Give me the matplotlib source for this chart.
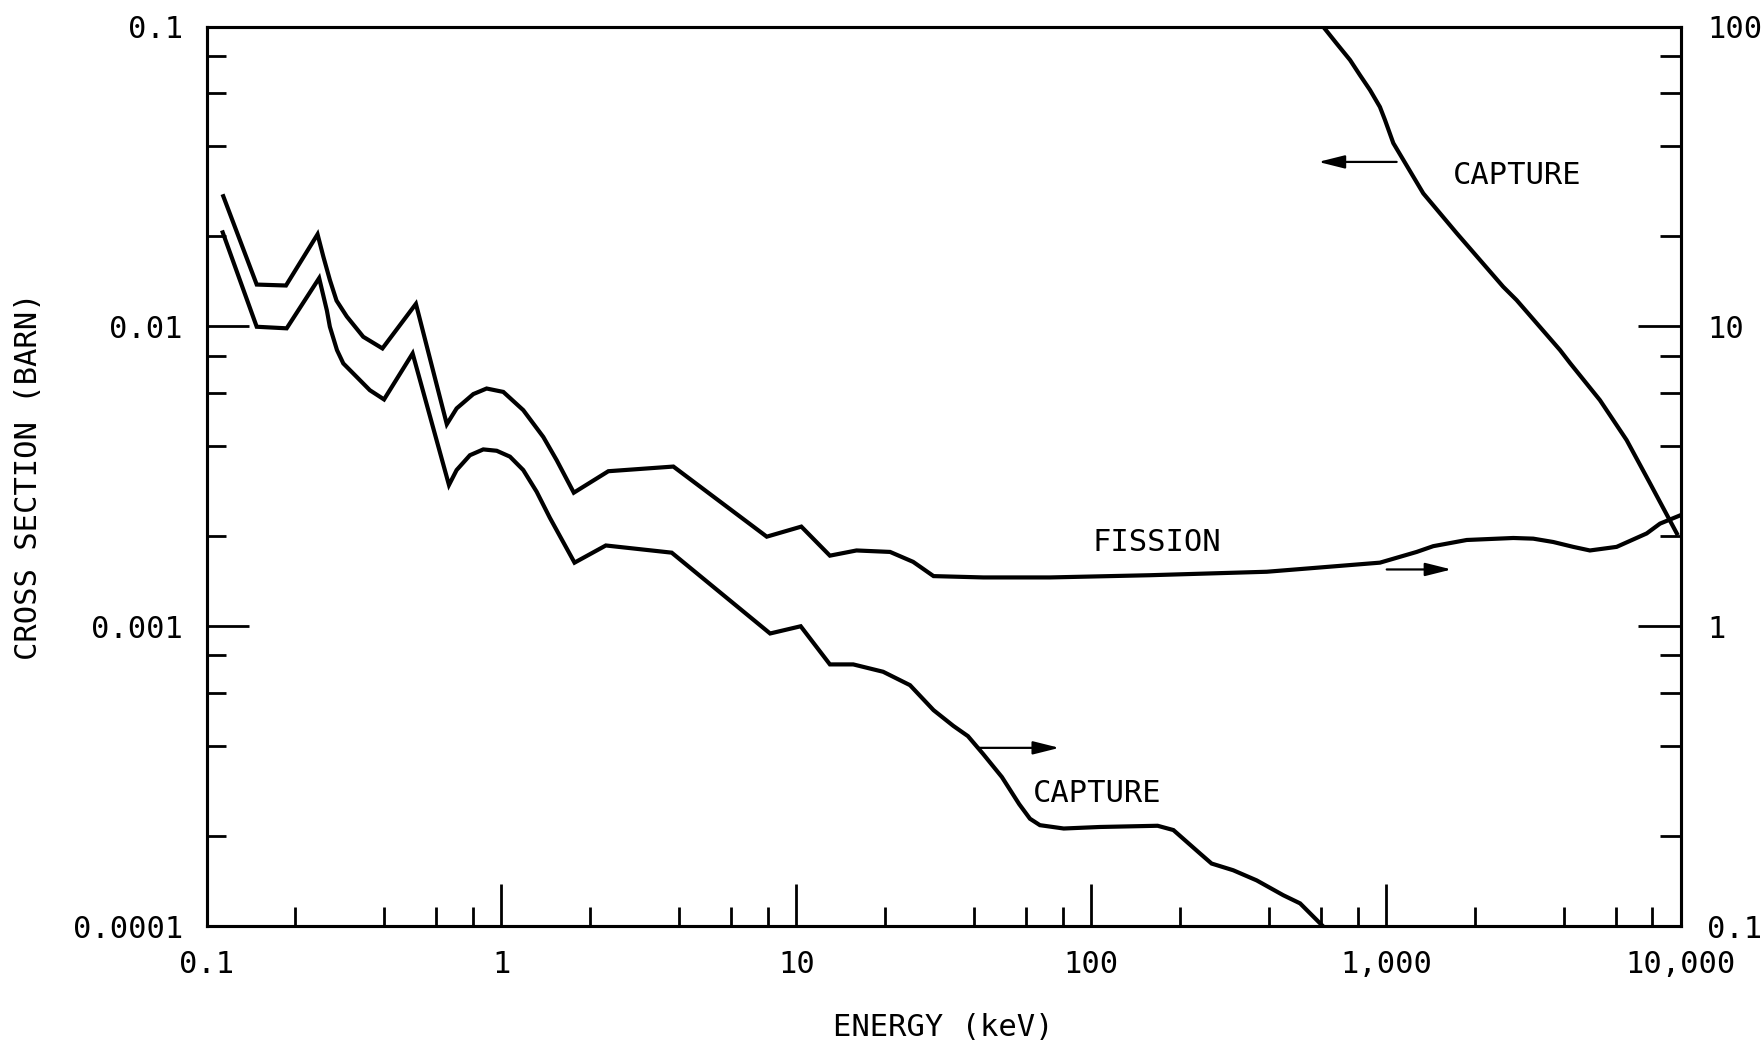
import matplotlib
matplotlib.use('Agg')
import matplotlib.pyplot as plt
from matplotlib.ticker import FixedLocator, FixedFormatter, NullFormatter

# ---- data ----
# Fission cross section (right axis, barn) vs energy (keV)
fission_energy = [0.114, 0.148, 0.186, 0.238, 0.249, 0.262, 0.276, 0.299, 0.340,
                  0.395, 0.513, 0.653, 0.705, 0.803, 0.891, 1.015, 1.186, 1.387,
                  1.54, 1.76, 2.305, 3.83, 7.94, 10.4, 13.0, 16.0, 20.8, 24.9,
                  29.2, 43.1, 72.5, 158, 394, 953, 1270, 1445, 1877, 2700,
                  3155, 3690, 4312, 4910, 6050, 7650, 8490, 10000]
fission_xs = [27.2, 13.8, 13.7, 20.3, 17.1, 14.3, 12.2, 10.8, 9.24,
              8.45, 11.9, 4.72, 5.33, 5.95, 6.21, 6.05, 5.26, 4.28,
              3.58, 2.79, 3.29, 3.41, 1.99, 2.15, 1.72, 1.79, 1.77, 1.64,
              1.47, 1.455, 1.455, 1.48, 1.52, 1.63, 1.77, 1.85, 1.94, 1.97,
              1.96, 1.91, 1.84, 1.79, 1.84, 2.04, 2.20, 2.35]

# Capture cross section, low-energy branch (right axis, barn)
capture_low_energy = [0.1135, 0.148, 0.187, 0.241, 0.256, 0.262, 0.277, 0.291,
                      0.323, 0.358, 0.400, 0.500, 0.664, 0.705, 0.782, 0.868,
                      0.964, 1.069, 1.186, 1.317, 1.46, 1.77, 2.26, 3.78, 8.15,
                      10.35, 13.0, 15.6, 19.7, 24.3, 29.2, 34.1, 38.2, 43.0,
                      49.8, 57, 62, 67, 80.7, 107, 168, 190, 234, 256, 303,
                      364, 448, 511, 610]
capture_low_xs = [20.6, 9.98, 9.86, 14.5, 11.3, 9.98, 8.34, 7.53,
                  6.79, 6.13, 5.71, 8.13, 2.96, 3.32, 3.72, 3.89,
                  3.85, 3.68, 3.32, 2.81, 2.30, 1.63, 1.86, 1.76, 0.946,
                  1.0, 0.746, 0.746, 0.705, 0.636, 0.525, 0.465, 0.430, 0.375,
                  0.314, 0.255, 0.228, 0.217, 0.2115, 0.214, 0.216, 0.209,
                  0.1745, 0.1616, 0.1535, 0.142, 0.1267, 0.119, 0.100]

# Capture cross section, high-energy branch (left axis, barn)
capture_high_energy = [612, 679, 755, 815, 882, 953, 991, 1058, 1337, 1734,
                       2495, 2770, 3890, 4210, 5310, 6540, 7850, 9680]
capture_high_xs = [0.100, 0.088, 0.0774, 0.069, 0.0615, 0.054, 0.0489, 0.0409,
                   0.0278, 0.0205, 0.01357, 0.01225, 0.00834, 0.00754, 0.00568,
                   0.00418, 0.0030, 0.00204]

x_ticks = [0.1, 1, 10, 100, 1000, 10000]
x_tick_labels = ['0.1', '1', '10', '100', '1,000', '10,000']
left_ticks = [0.0001, 0.001, 0.01, 0.1]
left_tick_labels = ['0.0001', '0.001', '0.01', '0.1']
right_ticks = [0.1, 1, 10, 100]
right_tick_labels = ['0.1', '1', '10', '100']
minor_factors = [2, 4, 6, 8]

# ---- figure ----
plt.rcParams['font.family'] = ['DejaVu Sans Mono', 'DejaVu Sans']
fig = plt.figure(figsize=(17.65, 10.44), dpi=100)
ax = fig.add_axes([0.1170, 0.1130, 0.8354, 0.8614])
ax2 = ax.twinx()

ax.set_xscale('log')
ax.set_yscale('log')
ax2.set_yscale('log')
ax.set_xlim(0.1, 10000)
ax.set_ylim(0.0001, 0.1)
ax2.set_ylim(0.1, 100)

def minors(ticks):
    return [t * f for t in ticks[:-1] for f in minor_factors]

ax.xaxis.set_major_locator(FixedLocator(x_ticks))
ax.xaxis.set_major_formatter(FixedFormatter(x_tick_labels))
ax.xaxis.set_minor_locator(FixedLocator(minors(x_ticks)))
ax.xaxis.set_minor_formatter(NullFormatter())
ax.yaxis.set_major_locator(FixedLocator(left_ticks))
ax.yaxis.set_major_formatter(FixedFormatter(left_tick_labels))
ax.yaxis.set_minor_locator(FixedLocator(minors(left_ticks)))
ax.yaxis.set_minor_formatter(NullFormatter())
ax2.yaxis.set_major_locator(FixedLocator(right_ticks))
ax2.yaxis.set_major_formatter(FixedFormatter(right_tick_labels))
ax2.yaxis.set_minor_locator(FixedLocator(minors(right_ticks)))
ax2.yaxis.set_minor_formatter(NullFormatter())

lw_ax = 2.2
for a in (ax, ax2):
    for s in a.spines.values():
        s.set_linewidth(lw_ax)

fs = 22
ax.tick_params(axis='both', which='major', direction='in', length=30, width=2,
               labelsize=fs, pad=17, colors='black')
ax.tick_params(axis='both', which='minor', direction='in', length=14, width=2)
ax.tick_params(axis='x', which='both', top=False)
ax.tick_params(axis='y', which='both', right=False)
ax2.tick_params(axis='y', which='major', direction='in', length=31, width=2,
                labelsize=fs, pad=19)
ax2.tick_params(axis='y', which='minor', direction='in', length=15, width=2)

# curves
lw = 3.0
ax.plot(capture_high_energy, capture_high_xs, color='black', lw=lw,
        solid_joinstyle='miter')
ax2.plot(fission_energy, fission_xs, color='black', lw=lw, solid_joinstyle='miter')
ax2.plot(capture_low_energy, capture_low_xs, color='black', lw=lw,
         solid_joinstyle='miter')

# labels & arrows
ax.text(1690, 0.0318, 'CAPTURE', fontsize=fs, ha='left', va='center')
ax2.text(101, 1.90, 'FISSION', fontsize=fs, ha='left', va='center')
ax2.text(63.3, 0.2764, 'CAPTURE', fontsize=fs, ha='left', va='center')

arrow_kw = dict(arrowstyle='-|>,head_length=1.6,head_width=0.4', color='black',
                lw=1.6, mutation_scale=10, shrinkA=0, shrinkB=0)
ax.annotate('', xy=(589, 0.0354), xytext=(1086, 0.0354), arrowprops=arrow_kw)
ax2.annotate('', xy=(1667, 1.547), xytext=(1005, 1.547), arrowprops=arrow_kw)
ax2.annotate('', xy=(78, 0.393), xytext=(41.3, 0.393), arrowprops=arrow_kw)

ax.set_xlabel('ENERGY (keV)', fontsize=fs)
ax.xaxis.set_label_coords(0.5, -0.1123)
ax.xaxis.label.set_va('center')
ax.set_ylabel('CROSS SECTION (BARN)', fontsize=fs)
ax.yaxis.set_label_coords(-0.121, 0.5)
ax.yaxis.label.set_va('center')

fig.savefig('out.png', dpi=100)
